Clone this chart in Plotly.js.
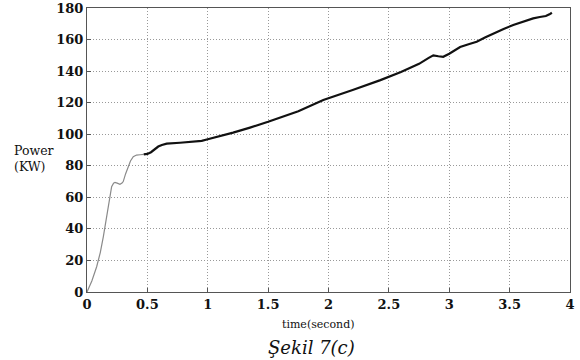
<!DOCTYPE html>
<html>
<head>
<meta charset="utf-8">
<script src="https://cdn.plot.ly/plotly-3.0.1.min.js"></script>
<style>body{margin:0;background:#fff;}#chart{width:580px;height:360px;}</style>
</head>
<body>
<div id="chart"></div>
<script>
// Start-up segment (thin grey)
const timeStart = [0, 0.04, 0.08, 0.11, 0.135, 0.155, 0.176, 0.19, 0.204, 0.22, 0.232, 0.25, 0.273, 0.29, 0.30, 0.32, 0.342, 0.36, 0.383, 0.41, 0.44, 0.47];
const powerStart = [0, 7, 16, 25, 35, 45, 54, 61, 66.7, 69, 69.5, 69, 68.3, 69, 70, 75, 79.4, 83, 85.7, 86.8, 87, 87.2];
// Main segment (black)
const timeMain = [0.47, 0.50, 0.53, 0.56, 0.59, 0.62, 0.66, 0.77, 0.89, 0.95, 1.0, 1.1, 1.21, 1.35, 1.50, 1.75, 1.957, 2.2, 2.43, 2.6, 2.75, 2.83, 2.868, 2.91, 2.95, 3.0, 3.05, 3.09, 3.16, 3.227, 3.3, 3.365, 3.45, 3.53, 3.61, 3.695, 3.75, 3.80, 3.83, 3.85];
const powerMain = [87.2, 87.5, 88.6, 90.6, 92.2, 93.2, 94, 94.6, 95.2, 95.8, 96.8, 98.6, 101, 104.2, 107.9, 114.6, 121.7, 128, 134.3, 139.5, 144.6, 148.4, 150, 149.4, 149.1, 151, 153.6, 155.3, 157, 158.6, 161.4, 163.9, 166.7, 169.2, 171.3, 173.4, 174.3, 174.9, 176, 177];
const xTicks = [0, 0.5, 1, 1.5, 2, 2.5, 3, 3.5, 4];
const yTicks = [0, 20, 40, 60, 80, 100, 120, 140, 160, 180];

const serif = 'DejaVu Serif';
const traces = [
  {x: timeStart, y: powerStart, mode: 'lines', line: {color: '#8a8a8a', width: 1.2, shape: 'linear'}, hoverinfo: 'skip'},
  {x: timeMain, y: powerMain, mode: 'lines', line: {color: '#111111', width: 2.2, shape: 'linear'}, hoverinfo: 'skip'}
];
const axisCommon = {
  showline: true, mirror: true, linecolor: '#555', linewidth: 1,
  showgrid: true, gridcolor: '#999999', griddash: '1px,2px', gridwidth: 1,
  zeroline: false, ticks: 'inside', ticklen: 4, tickcolor: '#555',
  ticklabeloverflow: 'allow',
  tickfont: {family: serif, size: 13, color: '#111', weight: 'bold'}
};
const layout = {
  width: 580, height: 360,
  margin: {l: 87, r: 10, t: 8, b: 68},
  paper_bgcolor: '#fff', plot_bgcolor: '#fff',
  showlegend: false,
  font: {family: serif},
  xaxis: Object.assign({}, axisCommon, {range: [0, 4], tickvals: xTicks, ticktext: xTicks.map(String)}),
  yaxis: Object.assign({}, axisCommon, {range: [0, 180], tickvals: yTicks, ticktext: yTicks.map(String)}),
  annotations: [
    {text: 'Power<br>(KW)', xref: 'paper', yref: 'paper', x: -0.11, y: 0.47, xanchor: 'center', yanchor: 'middle', showarrow: false, align: 'left', font: {family: serif, size: 12.5, color: '#111'}},
    {text: 'time(second)', xref: 'paper', yref: 'paper', x: 0.48, y: -0.085, xanchor: 'center', yanchor: 'top', showarrow: false, font: {family: serif, size: 11, color: '#111'}},
    {text: '<i>Şekil 7(c)</i>', xref: 'paper', yref: 'paper', x: 0.465, y: -0.15, xanchor: 'center', yanchor: 'top', showarrow: false, font: {family: serif, size: 18, color: '#111'}}
  ]
};
Plotly.newPlot('chart', traces, layout, {displayModeBar: false, staticPlot: true});
</script>
</body>
</html>
